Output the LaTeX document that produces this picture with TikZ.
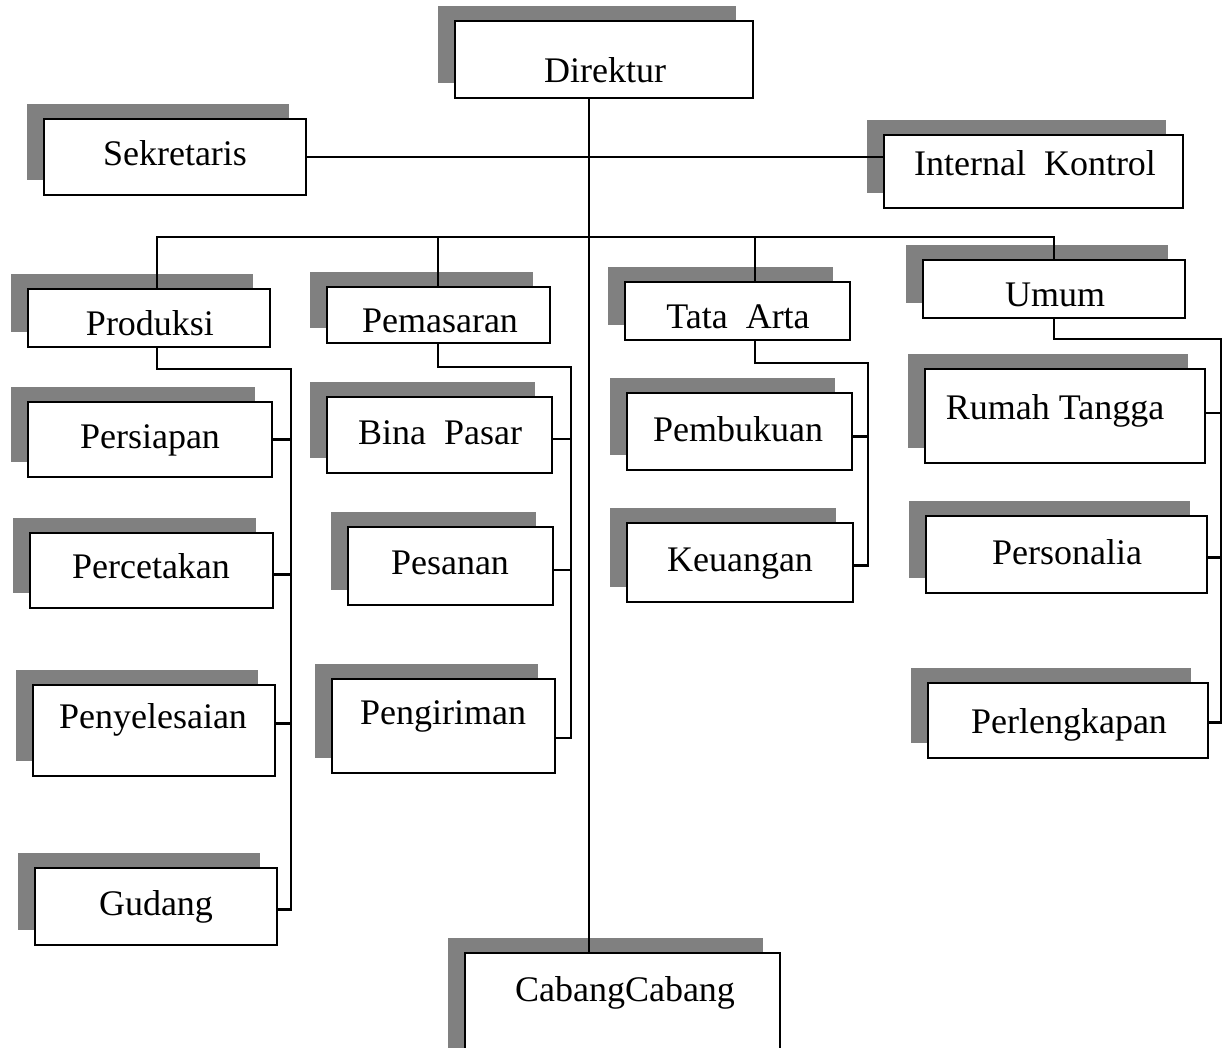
\documentclass[tikz,border=0pt]{standalone}
\usepackage{fontspec}
\setmainfont{Liberation Serif}
\usetikzlibrary{fit,shadows}
\definecolor{shadowgray}{gray}{0.5}
\tikzset{
  unitbox/.style={draw=black, line width=2.2pt, fill=white, inner sep=0pt,
    drop shadow={shadow xshift=-17pt, shadow yshift=15pt, fill=shadowgray, opacity=1}},
  lbl/.style={anchor=base, inner sep=0pt, font=\fontsize{36pt}{40pt}\selectfont},
  link/.style={draw=black, line width=2.2pt, line cap=rect}
}
\begin{document}
\begin{tikzpicture}[x=1pt, y=-1pt]
\useasboundingbox (0,0) rectangle (1223,1048);

% ---- boxes ----
\node[unitbox, fit={(455,21)(753,98)}]   (dir) {};
\node[unitbox, fit={(44,119)(306,195)}]  (sek) {};
\node[unitbox, fit={(884,135)(1183,208)}] (ink) {};

\node[unitbox, fit={(28,289)(270,347)}]  (pro) {};
\node[unitbox, fit={(327,287)(550,343)}] (pem) {};
\node[unitbox, fit={(625,282)(850,340)}] (tat) {};
\node[unitbox, fit={(923,260)(1185,318)}] (umu) {};

\node[unitbox, fit={(28,402)(272,477)}]  (per) {};
\node[unitbox, fit={(30,533)(273,608)}]  (pct) {};
\node[unitbox, fit={(33,685)(275,776)}]  (pny) {};
\node[unitbox, fit={(35,868)(277,945)}]  (gud) {};

\node[unitbox, fit={(327,397)(552,473)}] (bin) {};
\node[unitbox, fit={(348,527)(553,605)}] (pes) {};
\node[unitbox, fit={(332,679)(555,773)}] (png) {};

\node[unitbox, fit={(627,393)(852,470)}] (pbk) {};
\node[unitbox, fit={(627,523)(853,602)}] (keu) {};

\node[unitbox, fit={(925,369)(1205,463)}] (rum) {};
\node[unitbox, fit={(926,516)(1207,593)}] (prs) {};
\node[unitbox, fit={(928,683)(1208,758)}] (plk) {};

\node[unitbox, fit={(465,953)(780,1070)}] (cab) {};

% ---- labels ----
\node[lbl] (dir-t) at (605,83)   {Direktur};
\node[lbl] (sek-t) at (175,166)  {Sekretaris};
\node[lbl] (ink-t) at (1035,176) {Internal\ \ Kontrol};
\node[lbl] (pro-t) at (150,336)  {Produksi};
\node[lbl] (pem-t) at (440,333)  {Pemasaran};
\node[lbl] (tat-t) at (738,329)  {Tata\ \ Arta};
\node[lbl] (umu-t) at (1055,307) {Umum};
\node[lbl] (per-t) at (150,448)  {Persiapan};
\node[lbl] (pct-t) at (151,578)  {Percetakan};
\node[lbl] (pny-t) at (153,728)  {Penyelesaian};
\node[lbl] (gud-t) at (156,915)  {Gudang};
\node[lbl] (bin-t) at (440,444)  {Bina\ \ Pasar};
\node[lbl] (pes-t) at (450,574)  {Pesanan};
\node[lbl] (png-t) at (443,724)  {Pengiriman};
\node[lbl] (pbk-t) at (738,441)  {Pembukuan};
\node[lbl] (keu-t) at (740,571)  {Keuangan};
\node[lbl] (rum-t) at (1055,419) {Rumah Tangga};
\node[lbl] (prs-t) at (1067,564) {Personalia};
\node[lbl] (plk-t) at (1069,733) {Perlengkapan};
\node[lbl] (cab-t) at (625,1001) {CabangCabang};

% ---- routing points ----
\coordinate (spine) at (589,237);
\coordinate (dpro) at (157,237);
\coordinate (dpem) at (438,237);
\coordinate (dtat) at (755,237);
\coordinate (dumu) at (1054,237);
\coordinate (rpro) at (291,369);
\coordinate (rpem) at (571,367);
\coordinate (rtat) at (868,363);
\coordinate (rumu) at (1221,339);

% ---- connectors ----
\draw[link] (dir.south -| spine) -- (cab.north -| spine);
\draw[link] (sek.east) -- (sek.east -| ink.west);
\draw[link] (dpro) -- (dumu);
\draw[link] (dpro) -- (dpro |- pro.north);
\draw[link] (dpem) -- (dpem |- pem.north);
\draw[link] (dtat) -- (dtat |- tat.north);
\draw[link] (dumu) -- (dumu |- umu.north);

% Produksi
\draw[link] (dpro |- pro.south) |- (rpro) -- ([yshift=-3pt]rpro |- gud.east) -- ([yshift=-3pt]gud.east);
\draw[link] (per.east) -- (per.east -| rpro);
\draw[link] ([yshift=-4pt]pct.east) -- ([yshift=-4pt]pct.east -| rpro);
\draw[link] ([yshift=7pt]pny.east) -- ([yshift=7pt]pny.east -| rpro);

% Pemasaran
\draw[link] (dpem |- pem.south) |- (rpem) -- ([yshift=-12pt]rpem |- png.east) -- ([yshift=-12pt]png.east);
\draw[link] ([yshift=-4pt]bin.east) -- ([yshift=-4pt]bin.east -| rpem);
\draw[link] ([yshift=-4pt]pes.east) -- ([yshift=-4pt]pes.east -| rpem);

% Tata Arta
\draw[link] (dtat |- tat.south) |- (rtat) -- ([yshift=-3pt]rtat |- keu.east) -- ([yshift=-3pt]keu.east);
\draw[link] ([yshift=-5pt]pbk.east) -- ([yshift=-5pt]pbk.east -| rtat);

% Umum
\draw[link] (dumu |- umu.south) |- (rumu) -- ([yshift=-2pt]rumu |- plk.east) -- ([yshift=-2pt]plk.east);
\draw[link] ([yshift=3pt]rum.east) -- ([yshift=3pt]rum.east -| rumu);
\draw[link] ([yshift=-3pt]prs.east) -- ([yshift=-3pt]prs.east -| rumu);
\end{tikzpicture}
\end{document}
